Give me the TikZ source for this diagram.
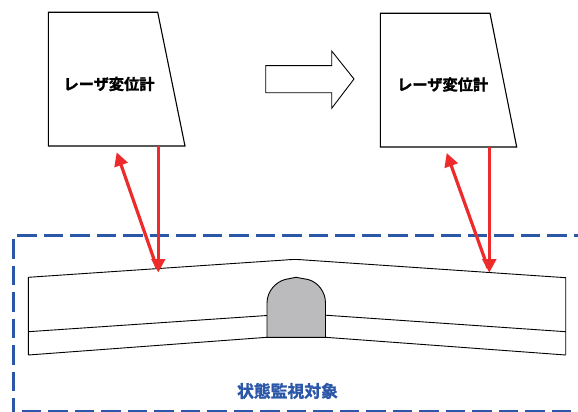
\documentclass[tikz,border=0pt]{standalone}
\usepackage{fontspec}
\newfontfamily\jpfont{Noto Sans CJK JP}[BoldFont={Noto Sans CJK JP Bold}, BoldFeatures={FakeBold=1.6}]
\usetikzlibrary{arrows.meta}
\definecolor{laserred}{HTML}{EE2B2B}
\definecolor{zoneblue}{HTML}{2B57A8}
\definecolor{tunnelgray}{HTML}{BBBBBD}
\tikzset{
  sensorbody/.style={draw=black, line width=1.1pt, fill=white},
  sensorlabel/.style={font=\jpfont\bfseries\fontsize{15.2}{16}\selectfont, inner sep=0pt},
  zonelabel/.style={font=\jpfont\bfseries\fontsize{16.8}{18}\selectfont, text=zoneblue, inner sep=0pt},
  zoneline/.style={draw=zoneblue, line width=2.7pt, dash pattern=on 19.5pt off 7pt},
  beam/.style={draw=laserred, line width=3.2pt, -{Triangle[length=13.5pt,width=13.5pt]}},
  deck/.style={draw=black, line width=0.9pt},
  stepmark/.style={draw=black, line width=0.9pt, fill=white},
}
\begin{document}
\begin{tikzpicture}[x=1pt, y=-1pt]
\useasboundingbox (0,0) rectangle (578,412);
\fill[white] (0,0) rectangle (578,412);

% monitored zone (dashed frame, open to the right)
\draw[zoneline] (17.3,235.3) -- (600,235.3);
\draw[zoneline] (13.3,239) -- (13.3,420);
\draw[zoneline] (21.7,411.3) -- (600,411.3);
\node[zonelabel] (zone) at (287.5,391) {状態監視対象};

% bridge deck with tunnel
\fill[white] (28.3,277.3) -- (295,259.3) -- (565.7,277.7) -- (565.7,355) -- (325.5,337.3) -- (267,337.3) -- (28.3,355) -- cycle;
\draw[deck] (28.3,355) -- (28.3,277.3) -- (285,260) .. controls (292,259.3) and (298,259.3) .. (305,260) -- (565.7,277.7) -- (565.7,355);
\draw[deck] (28.3,355) -- (267,337.3);
\draw[deck] (325.5,337.3) -- (565.7,355);
\draw[deck] (28.3,331.7) -- (267,315.5);
\draw[deck] (325.5,315.2) -- (565.7,331.7);
\draw[deck, fill=tunnelgray] (267,337.3) -- (267,303)
  .. controls (267,291) and (276,282) .. (285,279.5) -- (296,277.3) -- (308,279.5)
  .. controls (318,282) and (325.5,292) .. (325.5,303) -- (325.5,337.3) -- cycle;

% laser displacement sensors
\draw[sensorbody] (48.3,12.3) -- (157.7,12.3) -- (185,146) -- (48.3,146) -- cycle;
\node[sensorlabel] (s1) at (109,84) {レーザ変位計};
\draw[sensorbody] (380.3,13.3) -- (490,13.3) -- (516.7,147) -- (380.3,147) -- cycle;
\node[sensorlabel] (s2) at (442.7,84.5) {レーザ変位計};

% block arrow between the two states
\draw[stepmark] (265.7,65.7) -- (331.7,65.7) -- (331.7,51) -- (354,79) -- (331.7,108.3) -- (331.7,92.7) -- (265.7,92.7) -- cycle;

% beam coordinates
\coordinate (e1) at (158.3,146);
\coordinate (h1) at (158.3,272.5);
\coordinate (r1) at (157,268);
\coordinate (t1) at (116.7,152.3);
\coordinate (e2) at (489.3,147);
\coordinate (h2) at (489.3,272.7);
\coordinate (r2) at (488,268);
\coordinate (t2) at (446.7,153);

% emitted and reflected beams
\draw[beam] (e1) -- (h1);
\draw[beam] (r1) -- (t1);
\draw[beam] (e2) -- (h2);
\draw[beam] (r2) -- (t2);
\end{tikzpicture}
\end{document}
